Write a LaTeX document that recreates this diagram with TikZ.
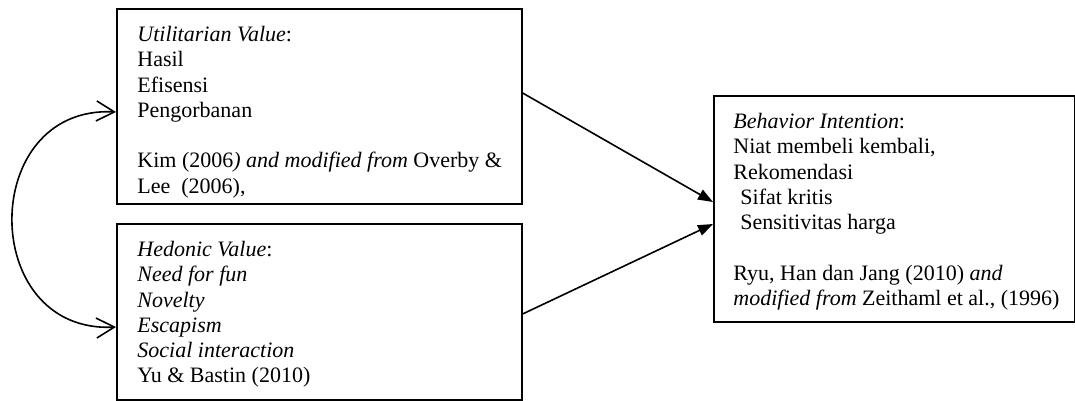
\documentclass[tikz,border=0pt]{standalone}
\usepackage{fontspec}
\setmainfont{Liberation Serif}
\usetikzlibrary{arrows.meta}
\begin{document}
\begin{tikzpicture}[x=0.5pt,y=-0.5pt,
  box/.style={draw,line width=0.8pt,inner sep=0pt,anchor=north west},
  txt/.style={inner sep=0pt,anchor=north west,align=left,
    font=\fontsize{11}{12.65}\selectfont},
  flow/.style={line width=0.8pt,-{Triangle[length=7.5pt,width=5.5pt]}},
  link/.style={line width=0.8pt,{Straight Barb[length=9pt,width=10pt]}-{Straight Barb[length=9pt,width=10pt]}}]
\useasboundingbox (0,0) rectangle (1075,401);
% boxes
\node[box,minimum width=202.5pt,minimum height=97.5pt] (U) at (116,8) {};
\node[box,minimum width=202.5pt,minimum height=88pt] (H) at (116,223) {};
\node[box,minimum width=180.5pt,minimum height=113pt] (B) at (713,95) {};
% texts
\node[txt] (Ut) at (137,23.3) {\strut\textit{Utilitarian Value}:\\
Hasil\\
Efisensi\\
Pengorbanan\\[12.65pt]
Kim (2006\textit{) and modified from} Overby \&\\
Lee\ \ (2006),};
\node[txt] (Ht) at (137,238.3) {\strut\textit{Hedonic Value}:\\
\textit{Need for fun}\\
\textit{Novelty}\\
\textit{Escapism}\\
\textit{Social interaction}\\
Yu \& Bastin (2010)};
\node[txt] (Bt) at (733,110.3) {\strut\textit{Behavior Intention}:\\
Niat membeli kembali,\\
Rekomendasi\\
\hspace*{3.5pt}Sifat kritis\\
\hspace*{3.5pt}Sensitivitas harga\\[12.65pt]
Ryu, Han dan Jang (2010) \textit{and}\\
\textit{modified from} Zeithaml et al., (1996)};
% connectors
\draw[flow] ([yshift=-42.5pt]U.north east) -- ([yshift=-53.5pt]B.north west);
\draw[flow] ([yshift=-45.5pt]H.north east) -- ([yshift=-64.5pt]B.north west);
\draw[link] ([yshift=-52pt]U.north west) .. controls (-22,105) and (-22,334) .. ([yshift=-52pt]H.north west);
\end{tikzpicture}
\end{document}
